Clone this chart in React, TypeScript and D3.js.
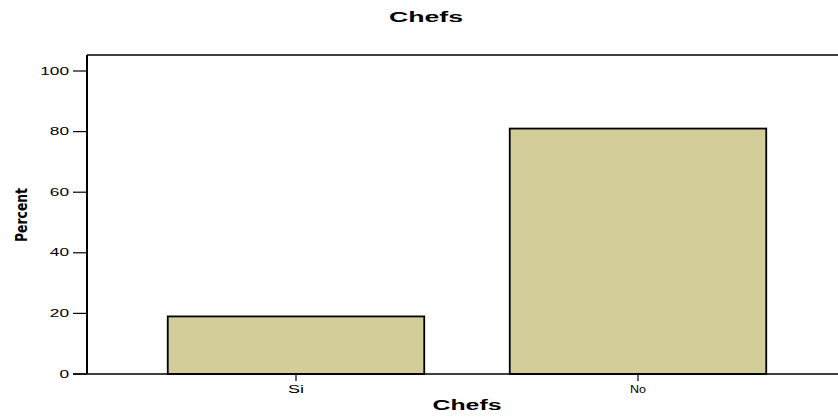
import React from "react";
import * as d3 from "d3";

const categories = ["Si", "No"];
const percents = [19.0, 81.0];
const yTicks = [0, 20, 40, 60, 80, 100];

const W = 838;
const H = 417;

export default function App() {
  const x = d3
    .scaleBand<string>()
    .domain(categories)
    .range([125, 809])
    .paddingInner(0.25)
    .paddingOuter(0.125);
  const y = d3.scaleLinear().domain([0, 100]).range([374, 71]);
  const left = 87;
  const top = 55;
  const bottom = 374;
  const font = "'Liberation Sans', Arial, sans-serif";
  const digitW = 9.6;

  return (
    <svg
      width={W}
      height={H}
      style={{ position: "fixed", left: 0, top: 0, background: "#fff" }}
    >
      <rect x={0} y={0} width={W} height={H} fill="#fff" />
      <text
        x={426}
        y={22}
        textAnchor="middle"
        fontFamily={font}
        fontWeight="bold"
        fontSize={14}
        textLength={74}
        lengthAdjust="spacingAndGlyphs"
      >
        Chefs
      </text>
      {categories.map((c, i) => (
        <rect
          key={c}
          x={x(c)}
          y={y(percents[i])}
          width={x.bandwidth()}
          height={y(0) - y(percents[i])}
          fill="#d3ce99"
          stroke="#000"
          strokeWidth={1.8}
        />
      ))}
      <line x1={left} y1={top} x2={W} y2={top} stroke="#000" strokeWidth={1.5} />
      <line x1={left} y1={top} x2={left} y2={bottom} stroke="#000" strokeWidth={2} />
      <line x1={left - 14} y1={bottom} x2={W} y2={bottom} stroke="#000" strokeWidth={1.5} />
      {yTicks.map((t) => {
        const s = String(t);
        return (
          <g key={t}>
            <line x1={left - 14} x2={left} y1={y(t)} y2={y(t)} stroke="#000" strokeWidth={1.2} />
            <text
              x={left - 18}
              y={y(t)}
              dy="0.36em"
              textAnchor="end"
              fontFamily={font}
              fontSize={10}
              fill="#000"
              textLength={s.length * digitW}
              lengthAdjust="spacingAndGlyphs"
            >
              {s}
            </text>
          </g>
        );
      })}
      {categories.map((c) => {
        const cx = (x(c) as number) + x.bandwidth() / 2;
        return (
          <g key={c}>
            <line x1={cx} x2={cx} y1={bottom} y2={bottom + 7} stroke="#000" strokeWidth={1.2} />
            <text
              x={cx}
              y={bottom + 19}
              textAnchor="middle"
              fontFamily={font}
              fontSize={10}
              fill="#000"
              textLength={16}
              lengthAdjust="spacingAndGlyphs"
            >
              {c}
            </text>
          </g>
        );
      })}
      <text
        x={467}
        y={410}
        textAnchor="middle"
        fontFamily={font}
        fontWeight="bold"
        fontSize={14.5}
        textLength={69}
        lengthAdjust="spacingAndGlyphs"
      >
        Chefs
      </text>
      <text
        transform={`translate(27,215) rotate(-90)`}
        textAnchor="middle"
        fontFamily="'DejaVu Sans Condensed', 'Liberation Sans Narrow', sans-serif"
        fontWeight="bold"
        fontSize={16}
        textLength={54}
        lengthAdjust="spacingAndGlyphs"
      >
        Percent
      </text>
    </svg>
  );
}
